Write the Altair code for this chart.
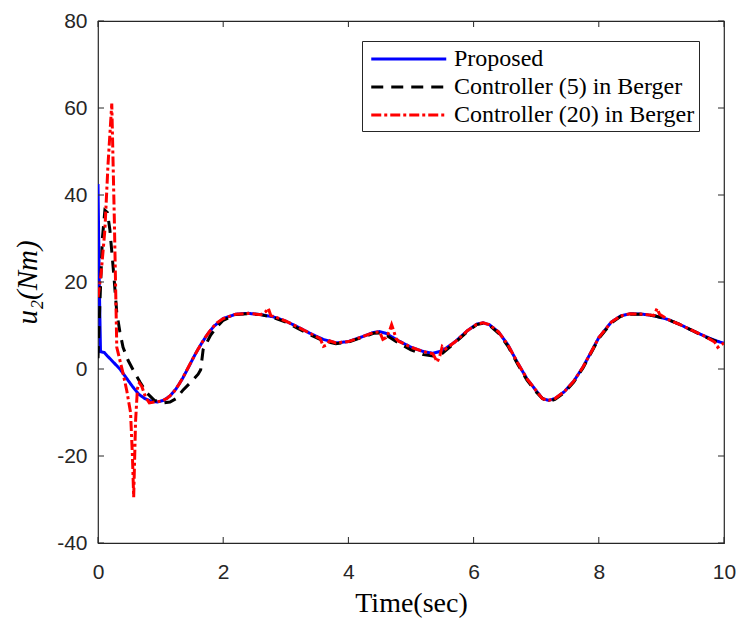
import altair as alt
import pandas as pd

# ---------------- data ----------------
series_names = ["Proposed", "Controller (5) in Berger", "Controller (20) in Berger"]
series_colors = ["#0000ff", "#000000", "#ff0000"]
series_dash = [[1, 0], [12, 8], [10, 3, 3, 3]]

t_prop = [0.0, 0.02, 0.04, 0.1, 0.15, 0.25, 0.35, 0.45, 0.55, 0.65, 0.75, 0.85, 0.95,
          1.05, 1.15, 1.25, 1.35, 1.45, 1.55, 1.65, 1.75, 1.85, 2.0, 2.2, 2.4, 2.6,
          2.8, 3.0, 3.2, 3.4, 3.6, 3.8, 4.0, 4.2, 4.4, 4.5, 4.6, 4.8, 5.0, 5.2, 5.35,
          5.5, 5.7, 5.9, 6.05, 6.15, 6.25, 6.4, 6.55, 6.7, 6.85, 7.0, 7.1, 7.2, 7.3,
          7.45, 7.6, 7.75, 7.9, 8.0, 8.2, 8.35, 8.5, 8.7, 8.9, 9.1, 9.3, 9.5, 9.7,
          9.85, 10.0]
u_prop = [42.5, 20.0, 4.0, 3.8, 3.0, 1.5, 0.0, -2.0, -4.0, -5.8, -6.8, -7.4, -7.6,
          -7.2, -6.2, -4.5, -2.2, 0.5, 3.3, 5.8, 8.0, 9.8, 11.6, 12.6, 12.8, 12.5,
          12.0, 11.0, 9.6, 8.1, 6.8, 6.0, 6.3, 7.3, 8.4, 8.6, 8.2, 6.5, 5.0, 4.0, 3.6,
          4.2, 6.2, 8.8, 10.3, 10.6, 10.2, 8.5, 5.5, 1.5, -2.2, -5.0, -6.8, -7.2, -6.8,
          -5.2, -2.8, 0.5, 4.5, 7.2, 10.8, 12.2, 12.7, 12.6, 12.2, 11.4, 10.2, 8.8, 7.5,
          6.6, 5.9]

t_c5 = [0.0, 0.03, 0.07, 0.11, 0.15, 0.19, 0.25, 0.3, 0.35, 0.4, 0.48, 0.56, 0.67,
        0.78, 0.9, 1.04, 1.15, 1.25, 1.36, 1.5, 1.6, 1.64, 1.68, 1.8, 1.9, 2.0, 2.2,
        2.4, 2.6, 2.8, 3.0, 3.2, 3.4, 3.6, 3.8, 4.0, 4.2, 4.4, 4.5, 4.6, 4.8, 5.0,
        5.2, 5.35, 5.5, 5.7, 5.9, 6.05, 6.15, 6.25, 6.4, 6.55, 6.7, 6.85, 7.0, 7.1,
        7.2, 7.3, 7.45, 7.6, 7.75, 7.9, 8.0, 8.2, 8.35, 8.5, 8.7, 8.9, 9.1, 9.3, 9.5,
        9.7, 9.85, 10.0]
u_c5 = [2.5, 15.0, 30.0, 36.5, 36.0, 32.0, 22.0, 13.0, 8.5, 5.0, 2.0, -0.2, -3.0,
        -5.5, -7.2, -7.8, -7.6, -6.8, -4.8, -2.8, -1.2, -0.2, 4.5, 7.8, 9.7, 11.2, 12.5,
        12.7, 12.5, 11.8, 10.8, 9.3, 7.8, 6.5, 5.8, 6.2, 7.2, 8.2, 8.3, 7.8, 6.0, 4.4,
        3.3, 3.0, 3.6, 6.0, 8.6, 10.2, 10.5, 10.1, 8.2, 5.2, 1.2, -2.5, -5.3, -6.8,
        -7.4, -7.0, -5.4, -3.0, 0.3, 4.3, 7.0, 10.6, 12.1, 12.6, 12.6, 12.2, 11.4, 10.2,
        8.8, 7.4, 6.5, 5.9]

t_c20 = [0.0, 0.05, 0.11, 0.16, 0.22, 0.26, 0.3, 0.35, 0.4, 0.46, 0.52, 0.55, 0.57,
         0.6, 0.63, 0.66, 0.7, 0.76, 0.82, 0.9, 1.0, 1.1, 1.2, 1.3, 1.4, 1.5, 1.6, 1.7,
         1.8, 1.9, 2.0, 2.2, 2.4, 2.6, 2.68, 2.72, 2.76, 2.9, 3.0, 3.2, 3.4, 3.55, 3.6,
         3.65, 3.7, 3.8, 4.0, 4.2, 4.4, 4.5, 4.55, 4.6, 4.65, 4.69, 4.73, 4.76, 4.8,
         5.0, 5.2, 5.35, 5.42, 5.46, 5.5, 5.55, 5.7, 5.9, 6.05, 6.15, 6.25, 6.4, 6.55,
         6.7, 6.85, 7.0, 7.1, 7.2, 7.3, 7.45, 7.6, 7.75, 7.9, 8.0, 8.2, 8.35, 8.5, 8.7,
         8.88, 8.93, 8.97, 9.1, 9.3, 9.5, 9.7, 9.85, 9.9, 9.95, 10.0]
u_c20 = [16.5, 22.0, 32.0, 47.0, 61.0, 35.0, 5.0, 2.0, -1.0, -5.0, -10.0, -20.0, -29.5,
         -12.0, -4.5, -3.2, -4.0, -6.5, -7.8, -7.6, -7.4, -6.8, -5.5, -3.4, -0.8, 2.0,
         4.6, 7.0, 9.0, 10.6, 11.6, 12.6, 12.8, 12.5, 13.2, 14.0, 12.3, 11.6, 11.0, 9.6,
         8.1, 7.0, 5.2, 5.5, 6.5, 6.0, 6.3, 7.3, 8.4, 8.5, 6.8, 7.2, 8.5, 10.2, 8.5, 7.0,
         6.4, 5.0, 4.0, 3.5, 1.6, 3.0, 5.2, 4.6, 6.2, 8.8, 10.3, 10.6, 10.2, 8.5, 5.5,
         1.5, -2.2, -5.0, -6.8, -7.2, -6.8, -5.2, -2.8, 0.5, 4.5, 7.2, 10.8, 12.2, 12.7,
         12.6, 12.3, 13.9, 12.6, 11.4, 10.2, 8.8, 7.5, 6.2, 5.0, 5.5, 6.0]

x_ticks = [0, 2, 4, 6, 8, 10]
y_ticks = [-40, -20, 0, 20, 40, 60, 80]

# ---------------- build table ----------------
rows = []
for name, ts, us in zip(series_names, [t_prop, t_c5, t_c20], [u_prop, u_c5, u_c20]):
    for t, u in zip(ts, us):
        rows.append({"series": name, "t": t, "u": u})
df = pd.DataFrame(rows)

W, H = 626, 522
TL = 6
FRAME = "#262626"
SERIF = "Liberation Serif"
SANS = "Liberation Sans"

xs = alt.Scale(domain=[0, 10], nice=False, zero=False)
ys = alt.Scale(domain=[-40, 80], nice=False, zero=False)

leg = alt.Legend(
    title=None, orient="none", legendX=264, legendY=20,
    symbolType="M-0.7,0H5.3", symbolSize=625, symbolStrokeWidth=3,
    labelFont=SERIF, labelFontSize=24, labelColor="black",
    labelOffset=60, labelLimit=400, strokeColor=FRAME, fillColor="white",
    padding=4, rowPadding=2, cornerRadius=0,
)

color = alt.Color("series:N",
                  scale=alt.Scale(domain=series_names, range=series_colors),
                  legend=leg)
dash = alt.StrokeDash("series:N",
                      scale=alt.Scale(domain=series_names, range=series_dash),
                      legend=leg)

xaxis = alt.Axis(values=x_ticks, title="Time(sec)", titleFont=SERIF,
                 titleFontSize=28, titleFontWeight="normal", titleColor="black",
                 labelFont=SANS, labelFontSize=21, labelColor=FRAME,
                 labelExpr="toString(datum.value)", labelFlush=False,
                 labelPadding=18, titlePadding=7, ticks=False, domain=False, grid=False)
yaxis = alt.Axis(values=y_ticks, title="u₂(Nm)", titleFont=SERIF,
                 titleFontSize=29, titleFontWeight="normal", titleFontStyle="italic",
                 titleColor="black",
                 labelFont=SANS, labelFontSize=21, labelColor=FRAME,
                 labelExpr="toString(datum.value)", labelFlush=False,
                 labelPadding=11, titlePadding=14, ticks=False, domain=False, grid=False)

X = lambda f: alt.X(f, scale=xs, axis=xaxis)
Y = lambda f: alt.Y(f, scale=ys, axis=yaxis)

base = alt.Chart(df)
layers = []
for name in series_names:
    layers.append(base.transform_filter(alt.datum.series == name)
                  .mark_line(strokeWidth=3, clip=True)
                  .encode(x=X("t:Q"), y=Y("u:Q"), color=color, strokeDash=dash,
                          order="t:Q"))

xt = alt.Chart(pd.DataFrame({"t": x_ticks}))
yt = alt.Chart(pd.DataFrame({"u": y_ticks}))
tick_bottom = xt.mark_rule(color=FRAME, strokeWidth=1).encode(
    x=X("t:Q"), y=alt.value(H), y2=alt.value(H - TL))
tick_top = xt.mark_rule(color=FRAME, strokeWidth=1).encode(
    x=X("t:Q"), y=alt.value(0), y2=alt.value(TL))
tick_left = yt.mark_rule(color=FRAME, strokeWidth=1).encode(
    y=Y("u:Q"), x=alt.value(0), x2=alt.value(TL))
tick_right = yt.mark_rule(color=FRAME, strokeWidth=1).encode(
    y=Y("u:Q"), x=alt.value(W), x2=alt.value(W - TL))

chart = alt.layer(*layers, tick_bottom, tick_top, tick_left, tick_right).properties(
    width=W, height=H,
    padding={"left": 98, "top": 21, "right": 16, "bottom": 75},
    autosize=alt.AutoSizeParams(type="none"),
    background="white",
).configure_view(stroke=FRAME, strokeWidth=1.2)

chart.save("out.html", embed_options={"renderer": "svg", "actions": False})
